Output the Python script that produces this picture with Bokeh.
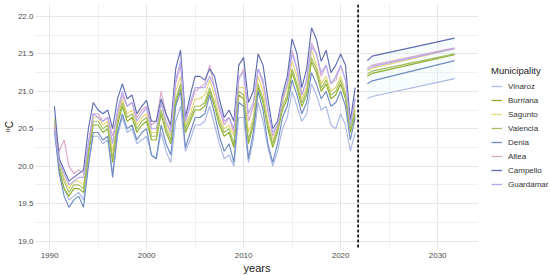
from bokeh.plotting import figure
from bokeh.layouts import row
from bokeh.models import Span, Legend, LegendItem, SingleIntervalTicker, Range1d, NumeralTickFormatter
from bokeh.embed import file_html
from bokeh.resources import INLINE

# ---- data ----
years_hist = [1990.5 + 0.5 * i for i in range(63)]
years_fc = [2022.75, 2023.25, 2031.75]
cutoff_year = 2021.8

municipalities = ["Vinaroz", "Burriana", "Sagunto", "Valencia", "Denia", "Altea", "Campello", "Guardamar"]
colors = ["#a9b8e6", "#8fb12e", "#e8d878", "#a3bf62", "#6f8bc2", "#d8aac8", "#5f6bb0", "#b4a8ee"]

vinaroz = [20.45, 19.95, 19.70, 19.55, 19.60, 19.65, 19.55, 20.05, 20.40, 20.40,
           20.30, 20.35, 19.90, 20.40, 20.65, 20.45, 20.50, 20.30, 20.35, 20.40,
           20.15, 20.10, 20.45, 20.20, 20.05, 20.60, 20.80, 20.20, 20.35, 20.55,
           20.55, 20.60, 20.80, 20.55, 20.30, 20.10, 20.15, 20.00, 20.65, 20.65,
           20.05, 20.35, 20.85, 20.60, 20.25, 20.00, 20.20, 20.50, 20.65, 21.00,
           20.80, 20.60, 20.70, 21.10, 20.95, 20.75, 20.80, 20.55, 20.50, 20.70,
           20.55, 20.20, 20.45]
burriana = [20.55, 19.95, 19.70, 19.60, 19.70, 19.70, 19.65, 20.15, 20.55, 20.55,
            20.45, 20.50, 20.05, 20.55, 20.80, 20.60, 20.65, 20.45, 20.55, 20.60,
            20.35, 20.35, 20.70, 20.45, 20.30, 20.85, 21.05, 20.45, 20.60, 20.75,
            20.75, 20.80, 21.00, 20.80, 20.55, 20.40, 20.45, 20.25, 20.95, 20.90,
            20.30, 20.55, 21.05, 20.85, 20.50, 20.25, 20.45, 20.75, 20.90, 21.25,
            21.05, 20.80, 20.95, 21.40, 21.25, 21.00, 21.10, 20.90, 20.95, 21.10,
            20.90, 20.45, 20.70]
sagunto = [20.65, 20.05, 19.85, 19.70, 19.80, 19.80, 19.75, 20.25, 20.65, 20.65,
           20.55, 20.60, 20.20, 20.65, 20.90, 20.70, 20.75, 20.55, 20.65, 20.70,
           20.45, 20.45, 20.85, 20.55, 20.40, 21.00, 21.20, 20.55, 20.70, 20.90,
           20.90, 20.95, 21.15, 20.95, 20.65, 20.50, 20.55, 20.40, 21.05, 21.05,
           20.45, 20.65, 21.20, 21.00, 20.60, 20.35, 20.50, 20.85, 21.05, 21.40,
           21.20, 20.90, 21.05, 21.55, 21.35, 21.10, 21.20, 21.00, 21.05, 21.20,
           21.00, 20.50, 20.80]
valencia = [20.60, 20.00, 19.80, 19.65, 19.75, 19.75, 19.70, 20.20, 20.60, 20.60,
            20.50, 20.55, 20.10, 20.60, 20.85, 20.65, 20.70, 20.50, 20.60, 20.65,
            20.40, 20.40, 20.75, 20.50, 20.35, 20.90, 21.10, 20.50, 20.65, 20.80,
            20.80, 20.85, 21.05, 20.85, 20.60, 20.45, 20.50, 20.30, 21.00, 20.95,
            20.35, 20.60, 21.10, 20.90, 20.55, 20.30, 20.50, 20.80, 20.95, 21.30,
            21.10, 20.85, 21.00, 21.45, 21.30, 21.05, 21.15, 20.95, 21.00, 21.15,
            20.95, 20.50, 20.75]
denia = [20.50, 19.90, 19.60, 19.45, 19.55, 19.60, 19.45, 20.00, 20.45, 20.45,
         20.35, 20.40, 19.85, 20.45, 20.70, 20.50, 20.55, 20.35, 20.45, 20.50,
         20.15, 20.10, 20.55, 20.30, 20.15, 20.80, 21.00, 20.25, 20.45, 20.65,
         20.65, 20.70, 20.95, 20.70, 20.40, 20.20, 20.30, 20.05, 20.85, 20.80,
         20.10, 20.45, 21.00, 20.75, 20.30, 20.05, 20.30, 20.65, 20.80, 21.15,
         20.95, 20.70, 20.85, 21.25, 21.10, 20.90, 21.00, 20.80, 20.85, 21.00,
         20.80, 20.35, 20.65]
altea = [20.55, 20.20, 20.35, 20.00, 19.90, 19.95, 19.90, 20.30, 20.70, 20.70,
         20.60, 20.65, 20.40, 20.70, 20.95, 20.80, 20.85, 20.65, 20.75, 20.80,
         20.55, 20.60, 21.00, 20.70, 20.50, 21.10, 21.35, 20.60, 20.80, 21.00,
         21.05, 21.10, 21.35, 21.05, 20.75, 20.55, 20.65, 20.45, 21.15, 21.30,
         20.60, 20.80, 21.30, 21.10, 20.75, 20.40, 20.55, 20.90, 21.10, 21.55,
         21.30, 20.95, 21.15, 21.65, 21.50, 21.20, 21.35, 21.10, 21.15, 21.35,
         21.15, 20.60, 20.90]
campello = [20.80, 20.10, 19.95, 19.80, 19.85, 19.90, 19.95, 20.50, 20.85, 20.75,
            20.70, 20.75, 20.50, 20.90, 21.10, 20.90, 20.95, 20.70, 20.80, 20.88,
            20.60, 20.60, 20.90, 20.70, 20.55, 21.30, 21.55, 20.65, 20.95, 21.20,
            21.20, 21.15, 21.30, 21.20, 20.90, 20.65, 20.75, 20.60, 21.35, 21.45,
            20.85, 21.00, 21.50, 21.35, 20.90, 20.50, 20.60, 20.95, 21.20, 21.70,
            21.50, 21.05, 21.30, 21.85, 21.70, 21.40, 21.55, 21.25, 21.35, 21.50,
            21.35, 20.60, 21.05]
guardamar = [20.50, 20.05, 19.90, 19.75, 19.80, 19.85, 19.85, 20.30, 20.70, 20.65,
             20.60, 20.65, 20.30, 20.75, 21.00, 20.80, 20.85, 20.60, 20.70, 20.78,
             20.50, 20.50, 20.85, 20.60, 20.45, 21.15, 21.40, 20.60, 20.85, 21.05,
             21.05, 21.05, 21.20, 21.05, 20.80, 20.60, 20.65, 20.50, 21.20, 21.25,
             20.70, 20.85, 21.30, 21.15, 20.75, 20.45, 20.55, 20.90, 21.10, 21.50,
             21.30, 20.95, 21.15, 21.60, 21.50, 21.25, 21.35, 21.10, 21.20, 21.35,
             21.15, 20.55, 20.90]

fc_vinaroz = [20.90, 20.93, 21.17]
fc_burriana = [21.20, 21.24, 21.49]
fc_sagunto = [21.27, 21.31, 21.57]
fc_valencia = [21.23, 21.27, 21.50]
fc_denia = [21.10, 21.14, 21.41]
fc_altea = [21.31, 21.35, 21.58]
fc_campello = [21.41, 21.47, 21.71]
fc_guardamar = [21.29, 21.33, 21.57]

y_ticks_interval = 0.5
x_ticks_interval = 10

hist = [vinaroz, burriana, sagunto, valencia, denia, altea, campello, guardamar]
fc = [fc_vinaroz, fc_burriana, fc_sagunto, fc_valencia, fc_denia, fc_altea, fc_campello, fc_guardamar]

FONT = "Liberation Sans"

p = figure(width=478, height=276, output_backend="svg", toolbar_location=None,
           x_range=Range1d(1988.55, 2034.21), y_range=Range1d(18.9, 22.16),
           min_border_left=0, min_border_right=0, min_border_top=4, min_border_bottom=0)
p.outline_line_color = None
p.background_fill_color = "white"
p.border_fill_color = "white"

# faint forecast ribbon
p.varea(x=years_fc, y1=fc_vinaroz, y2=fc_campello, fill_color="#d9f4f4", fill_alpha=0.22)

for name, col, h, f in zip(municipalities, colors, hist, fc):
    p.line(years_hist, h, line_color=col, line_width=1.15)
    p.line(years_fc, f, line_color=col, line_width=1.15)

p.add_layout(Span(location=cutoff_year, dimension="height", line_color="black",
                  line_width=1.6, line_dash="3 2"))

p.xaxis.ticker = SingleIntervalTicker(interval=x_ticks_interval, num_minor_ticks=2)
p.yaxis.ticker = SingleIntervalTicker(interval=y_ticks_interval, num_minor_ticks=2)
p.yaxis.formatter = NumeralTickFormatter(format="0.0")

for ax in (p.xaxis, p.yaxis):
    ax.axis_line_color = None
    ax.major_tick_line_color = None
    ax.minor_tick_line_color = None
    ax.major_tick_out = 0
    ax.major_tick_in = 0
    ax.minor_tick_out = 0
    ax.minor_tick_in = 0
    ax.major_label_text_font = FONT
    ax.major_label_text_font_size = "8px"
    ax.major_label_text_color = "#4d4d4d"
    ax.axis_label_text_font = FONT
    ax.axis_label_text_font_style = "normal"
    ax.axis_label_text_color = "#1a1a1a"

p.yaxis.major_label_standoff = 2
p.yaxis.axis_label_standoff = 0
p.xaxis.major_label_standoff = 4
p.xaxis.axis_label_standoff = 1
p.xaxis.axis_label = "years"
p.xaxis.axis_label_text_font_size = "11px"
p.yaxis.axis_label = "ºC"
p.yaxis.axis_label_text_font_size = "10px"

for g in (p.xgrid, p.ygrid):
    g.grid_line_color = "#e6e6e6"
    g.grid_line_width = 1
    g.minor_grid_line_color = "#f0f0f0"
    g.minor_grid_line_width = 1

# legend lives in its own narrow figure to the right
lg = figure(width=72, height=276, output_backend="svg", toolbar_location=None,
            x_range=Range1d(0, 1), y_range=Range1d(0, 1),
            min_border_left=0, min_border_right=0, min_border_top=0, min_border_bottom=0)
lg.outline_line_color = None
lg.axis.visible = False
lg.xgrid.visible = False
lg.ygrid.visible = False
lg.border_fill_color = "white"
items = []
for name, col in zip(municipalities, colors):
    r = lg.line([-5, -4], [-5, -4], line_color=col, line_width=1.3)
    items.append(LegendItem(label=name, renderers=[r]))

legend = Legend(items=items, title="Municipality", location=(13, 57))
legend.border_line_color = None
legend.background_fill_alpha = 0
legend.title_text_font = FONT
legend.title_text_font_size = "9.5px"
legend.title_text_font_style = "normal"
legend.title_text_color = "#1a1a1a"
legend.title_standoff = 3
legend.label_text_font = FONT
legend.label_text_font_size = "8px"
legend.label_text_color = "#333333"
legend.glyph_width = 11
legend.glyph_height = 14
legend.label_height = 14
legend.spacing = 0
legend.padding = 2
legend.margin = 0
legend.label_standoff = 6
lg.add_layout(legend)

layout = row(p, lg)
open("out.html", "w").write(file_html(layout, INLINE))
